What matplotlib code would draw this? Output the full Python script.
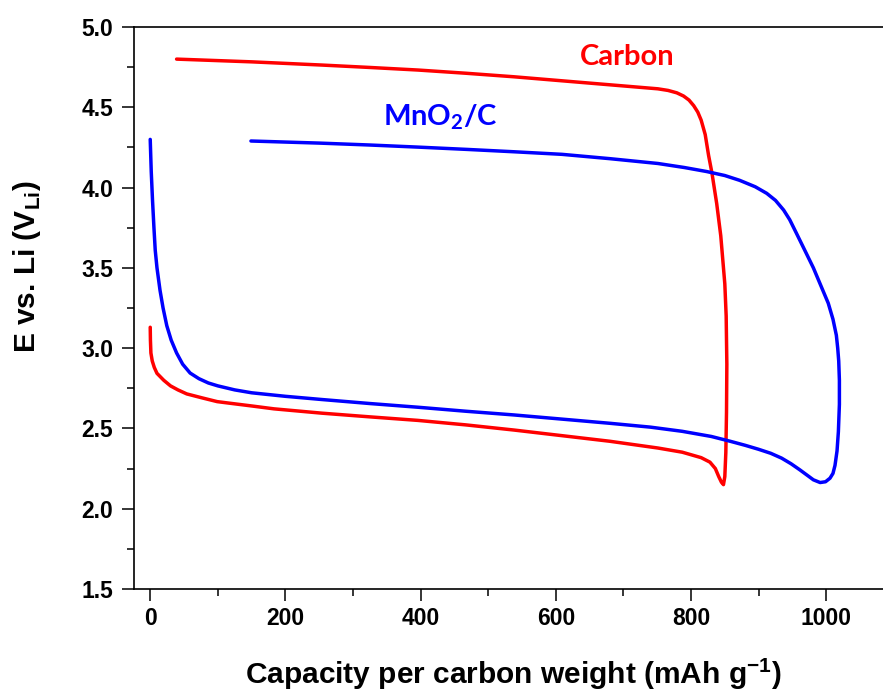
import matplotlib
matplotlib.use('Agg')
import matplotlib.pyplot as plt
from matplotlib.ticker import MultipleLocator

# Carbon electrode: discharge then charge, one continuous trace (mAh/g, V)
carbon_cap = [0, 0.3, 1, 3, 6, 10, 20, 30, 41, 54, 77, 99, 112, 150, 183, 254,
              325, 396, 467, 538, 609, 680, 751, 787, 815, 828, 836, 841, 845,
              848, 850, 851.5, 852.5, 853, 852, 850, 847, 844, 838, 831, 826,
              821, 815, 810, 804, 797, 789, 779, 766, 751, 680, 609, 538, 467,
              396, 325, 254, 150, 39]
carbon_v = [3.13, 3.05, 2.97, 2.92, 2.88, 2.843, 2.80, 2.765, 2.74, 2.715, 2.69,
            2.667, 2.66, 2.64, 2.622, 2.595, 2.572, 2.55, 2.522, 2.49, 2.455,
            2.42, 2.378, 2.352, 2.318, 2.29, 2.25, 2.2, 2.165, 2.15, 2.2, 2.35,
            2.6, 2.9, 3.2, 3.4, 3.55, 3.7, 3.9, 4.09, 4.2, 4.33, 4.42, 4.47,
            4.51, 4.545, 4.57, 4.59, 4.605, 4.615, 4.64, 4.665, 4.69, 4.712,
            4.732, 4.748, 4.763, 4.783, 4.80]

# MnO2/C electrode
mno2_cap = [0, 1.5, 3.4, 5.5, 7.4, 10, 14.5, 19, 24.5, 31, 39, 48, 59, 72, 86,
            100, 125, 150, 200, 254, 325, 396, 467, 538, 609, 680, 740, 787,
            830, 858, 880, 900, 918, 934, 948, 961, 972, 981, 991, 999, 1005.6,
            1010, 1013, 1016, 1018, 1019.5, 1019.5, 1018.5, 1017, 1015, 1010,
            1003, 993, 981, 968, 956, 946, 937, 925, 912, 895, 872, 850, 823,
            790, 751, 680, 609, 538, 467, 396, 325, 250, 149]
mno2_v = [4.30, 4.10, 3.92, 3.75, 3.61, 3.50, 3.36, 3.25, 3.14, 3.05, 2.97,
          2.90, 2.845, 2.81, 2.783, 2.765, 2.74, 2.722, 2.70, 2.68, 2.655,
          2.632, 2.607, 2.584, 2.558, 2.532, 2.508, 2.482, 2.45, 2.42, 2.395,
          2.37, 2.345, 2.315, 2.28, 2.242, 2.208, 2.18, 2.163, 2.168, 2.19,
          2.22, 2.27, 2.36, 2.48, 2.65, 2.8, 2.92, 3.0, 3.08, 3.18, 3.28, 3.38,
          3.50, 3.612, 3.715, 3.80, 3.86, 3.92, 3.964, 4.005, 4.045, 4.075,
          4.10, 4.125, 4.15, 4.18, 4.207, 4.223, 4.238, 4.252, 4.265, 4.277,
          4.29]

x_ticks = [0, 200, 400, 600, 800, 1000]
y_ticks = [1.5, 2.0, 2.5, 3.0, 3.5, 4.0, 4.5, 5.0]

plt.rcParams['font.family'] = ['Liberation Sans', 'DejaVu Sans']
plt.rcParams['font.weight'] = 'bold'
plt.rcParams['mathtext.fontset'] = 'custom'
plt.rcParams['mathtext.rm'] = 'Liberation Sans:bold'
plt.rcParams['mathtext.sf'] = 'Lato:bold'

fig = plt.figure(figsize=(8.83, 6.91), dpi=100)
ax = fig.add_axes([134 / 883, 1 - 589 / 691, 1 - 134 / 883, (589 - 27) / 691])

ax.plot(carbon_cap, carbon_v, color='#ff0000', lw=2.5, solid_capstyle='round')
ax.plot(mno2_cap, mno2_v, color='#0000ff', lw=2.5, solid_capstyle='round')

ax.text(705, 4.763, 'Carbon', color='#ff0000', fontsize=21,
        family='Lato', weight='bold', ha='center', va='baseline')
ax.text(430, 4.39, r'MnO$_\mathsf{2}$/C', color='#0000ff', fontsize=21,
        family='Lato', weight='bold', ha='center', va='baseline')

ax.set_xlim(-24, 1084)
ax.set_ylim(1.5, 5.0)
ax.set_xticks(x_ticks)
ax.set_yticks(y_ticks)
ax.set_yticklabels([f'{v:.1f}' for v in y_ticks])
ax.xaxis.set_minor_locator(MultipleLocator(100))
ax.yaxis.set_minor_locator(MultipleLocator(0.25))
ax.tick_params(which='major', direction='out', length=8.4, width=1.1,
               labelsize=16.5, top=False, right=False)
ax.tick_params(which='minor', direction='out', length=4.7, width=1.1,
               top=False, right=False)
ax.tick_params(axis='x', pad=4.5)
ax.tick_params(axis='y', pad=6.5)
ax.spines['right'].set_visible(False)
for s in ['left', 'bottom', 'top']:
    ax.spines[s].set_linewidth(1.2)

ax.set_xlabel(r'Capacity per carbon weight (mAh g$^{\mathrm{-1}}$)', fontsize=21.5,
              weight='bold', va='top')
ax.set_ylabel(r'E vs. Li (V$_{\mathrm{Li}}$)', fontsize=21.5, weight='bold')
ax.xaxis.set_label_coords(0.507, -0.119)
ax.yaxis.set_label_coords(-0.1215, 0.574)

fig.savefig('out.png', dpi=100)
